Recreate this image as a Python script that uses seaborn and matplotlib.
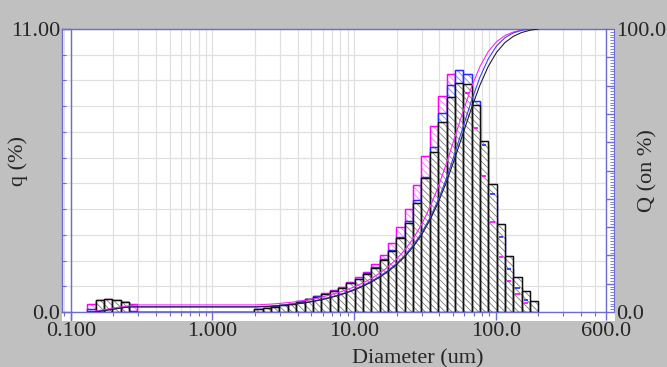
import numpy as np
import pandas as pd
import matplotlib
matplotlib.use("Agg")
import matplotlib.pyplot as plt
from matplotlib.ticker import FixedLocator, FixedFormatter, NullFormatter, LogLocator, MultipleLocator
from matplotlib.patches import Rectangle
import seaborn as sns

# ---------------- data ----------------
diameter_edges = [0.131, 0.150, 0.172, 0.197, 0.226, 0.259, 0.296,
                  0.339, 0.389, 0.445, 0.510, 0.584, 0.669, 0.766, 0.877,
                  1.005, 1.151, 1.318, 1.510, 1.729, 1.981,
                  2.269, 2.599, 2.976, 3.409, 3.905, 4.472, 5.122, 5.867,
                  6.720, 7.697, 8.816, 10.097, 11.565, 13.246, 15.172,
                  17.377, 19.904, 22.797, 26.111, 29.907, 34.255, 39.234,
                  44.938, 51.471, 58.953, 67.523, 77.339, 88.583, 101.46,
                  116.21, 133.10, 152.45, 174.62, 200.00]

q_black = [0.00, 0.45, 0.49, 0.45, 0.39, 0.00,
           0, 0, 0, 0, 0, 0, 0, 0, 0, 0, 0, 0, 0, 0,
           0.10, 0.14, 0.21, 0.27, 0.31, 0.40, 0.49, 0.60, 0.69, 0.80,
           0.93, 1.11, 1.27, 1.48, 1.70, 2.02, 2.37, 2.86, 3.45, 4.25,
           5.20, 6.21, 7.40, 8.36, 8.91, 8.85, 8.05, 6.65, 4.97, 3.43,
           2.19, 1.35, 0.80, 0.44]

q_blue = [0.10, 0.42, 0.47, 0.44, 0.38, 0.05,
          0, 0, 0, 0, 0, 0, 0, 0, 0, 0, 0, 0, 0, 0,
          0.11, 0.15, 0.22, 0.28, 0.32, 0.41, 0.50, 0.62, 0.71, 0.82,
          0.95, 1.13, 1.30, 1.51, 1.74, 2.07, 2.42, 2.92, 3.52, 4.35,
          5.26, 6.41, 7.72, 8.82, 9.42, 9.25, 8.19, 6.50, 4.57, 2.90,
          1.66, 0.92, 0.47, 0.00]

q_magenta = [0.33, 0.47, 0.52, 0.46, 0.40, 0.32,
             0, 0, 0, 0, 0, 0, 0, 0, 0, 0, 0, 0, 0, 0,
             0.13, 0.16, 0.23, 0.29, 0.33, 0.43, 0.52, 0.64, 0.73, 0.85,
             0.96, 1.15, 1.35, 1.57, 1.87, 2.22, 2.69, 3.29, 3.99, 4.92,
             6.06, 7.24, 8.41, 9.24, 9.20, 8.50, 7.14, 5.30, 3.51, 2.15,
             1.22, 0.70, 0.36, 0.00]

x_tick_values = [0.1, 1, 10, 100, 600]
x_tick_labels = ["0.100", "1.000", "10.00", "100.0", "600.0"]
q_tick_values = [0, 11]
q_tick_labels = ["0.0", "11.00"]
Q_tick_values = [0, 10, 20, 30, 40, 50, 60, 70, 80, 90, 100]
Q_tick_labels = ["0.0", "", "", "", "", "", "", "", "", "", "100.0"]

# ---------------- style ----------------
sns.set_style("white")
plt.rcParams['font.family'] = ['Liberation Serif', 'DejaVu Serif']
plt.rcParams['hatch.linewidth'] = 0.6

W, H = 667, 367
fig = plt.figure(figsize=(W / 100, H / 100), dpi=100, facecolor='#c0c0c0')


def fx(px):
    return px / W


def fy(py):
    return 1 - py / H


frame_blue = '#6c6cd4'
grid_col = '#e0e0e0'
hatch = '\\\\\\\\\\'

fig.patches.append(Rectangle((fx(62), fy(321)), fx(615) - fx(62), fy(29) - fy(321),
                             transform=fig.transFigure, facecolor='white',
                             edgecolor='none', zorder=-5))

ax = fig.add_axes([fx(62), fy(312), fx(606) - fx(62), fy(29) - fy(312)])
ax.set_facecolor('white')
ax.set_xscale('log')

edges = np.array(diameter_edges)
centers = np.sqrt(edges[:-1] * edges[1:])
log_bins = [float(v) for v in np.log10(edges)]

series = [(q_magenta, '#ff00ff', '#ff70ff'),
          (q_blue, '#2828ff', '#8080ff'),
          (q_black, '#111111', '#7a7a7a')]
for q, col, hcol in series:
    df = pd.DataFrame({'d': centers, 'q': q})
    # hatched body
    sns.histplot(data=df, x='d', weights='q', bins=log_bins, log_scale=True,
                 ax=ax, stat='count', fill=True, facecolor='white',
                 edgecolor=hcol, hatch=hatch, linewidth=0.9, alpha=1,
                 color=col, zorder=2)
    # crisp outline
    sns.histplot(data=df, x='d', weights='q', bins=log_bins, log_scale=True,
                 ax=ax, stat='count', fill=True, facecolor='none',
                 edgecolor=col, linewidth=1.0, alpha=1, color=col, zorder=2)

# tops of lower series seen inside the black bars
lb = np.log10(edges[:-1])
rb = np.log10(edges[1:])
qb = np.array(q_black)
for q, col, _ in series[:2]:
    qa = np.array(q)
    m = (qa > 0) & (qa < qb - 0.05)
    ax.hlines(qa[m], 10 ** (lb[m] + 0.25 * (rb - lb)[m]), 10 ** (lb[m] + 0.75 * (rb - lb)[m]),
              colors=col, lw=1.2, zorder=3)

ax2 = ax.twinx()
line_cols = ['#ff22ff', '#4040ff', '#222222']
for (q, _, _), lc in zip(series, line_cols):
    qa = np.array(q)
    Q = np.concatenate([[0], np.cumsum(qa)]) / qa.sum() * 100
    sns.lineplot(x=edges, y=Q, ax=ax2, color=lc, lw=0.8, sort=False)

ax.set_xlim(0.08681, 600)
ax.set_ylim(0, 11)
ax2.set_ylim(0, 100)
ax.set_xlabel('')
ax.set_ylabel('')
ax2.set_xlabel('')
ax2.set_ylabel('')

# grid
ax.set_axisbelow(True)
ax.xaxis.set_minor_locator(LogLocator(base=10, subs=np.arange(2, 10)))
ax.xaxis.set_minor_formatter(NullFormatter())
ax.yaxis.set_minor_locator(MultipleLocator(1))
ax.grid(True, which='both', color=grid_col, lw=0.9)

# x ticks
ax.set_xticks(x_tick_values)
ax.set_xticklabels(x_tick_labels)
ax.xaxis.set_minor_formatter(NullFormatter())
ax.tick_params(axis='x', which='major', direction='out', length=5.8, width=1,
               color=frame_blue, pad=1.5, labelsize=16, bottom=True)
ax.tick_params(axis='x', which='minor', direction='out', length=2.9, width=0.8,
               color=frame_blue, bottom=True)

# left y ticks
ax.set_yticks(q_tick_values)
ax.set_yticklabels(q_tick_labels)
ax.tick_params(axis='y', which='major', direction='in', length=6, width=1,
               color=frame_blue, pad=1.5, labelsize=16, left=True)
ax.tick_params(axis='y', which='minor', direction='in', length=3, width=0.8,
               color=frame_blue, left=True)

# right Q axis
ax2.yaxis.set_major_locator(FixedLocator(Q_tick_values))
ax2.yaxis.set_major_formatter(FixedFormatter(Q_tick_labels))
ax2.yaxis.set_minor_locator(MultipleLocator(1))
ax2.tick_params(axis='y', which='major', direction='in', length=5.8, width=1,
                color=frame_blue, pad=1.5, labelsize=16, right=True)
ax2.tick_params(axis='y', which='minor', direction='in', length=2.8, width=0.6,
                color=frame_blue, right=True)
ax2.spines['right'].set_position(('outward', 5.76))
ax2.spines['right'].set_color(frame_blue)
for s in ['top', 'bottom', 'left']:
    ax2.spines[s].set_visible(False)
ax2.grid(False)

for s in ax.spines.values():
    s.set_color(frame_blue)
    s.set_linewidth(1)
    s.set_visible(True)

ax.axvline(0.1, ymin=-8 / 283, ymax=1, color=frame_blue, lw=1, clip_on=False, zorder=4)

fig.text(fx(417.5), fy(363), 'Diameter (um)', ha='center', va='baseline', fontsize=16)
fig.text(fx(18), fy(161), 'q (%)', rotation=90, ha='center', va='center', fontsize=16)
fig.text(fx(648), fy(171), 'Q (on %)', rotation=90, ha='center', va='center', fontsize=16)

fig.savefig('out.png', dpi=100, facecolor=fig.get_facecolor())
